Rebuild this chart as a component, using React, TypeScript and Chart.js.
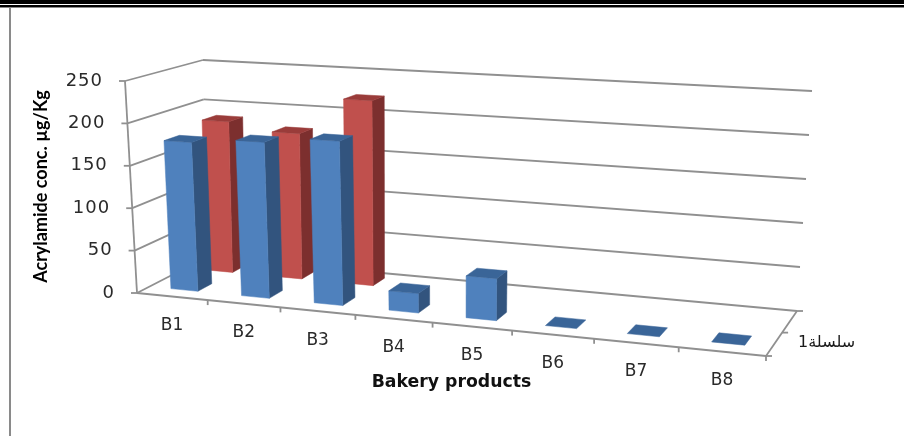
import React, { useEffect, useRef } from "react";
import { Chart, registerables } from "chart.js";

Chart.register(...registerables);

const categories = ["B1", "B2", "B3", "B4", "B5", "B6", "B7", "B8"];
const seriesFront = [176, 182, 189, 22, 47, 0, 0, 0];
const seriesBack: (number | null)[] = [185, 176, 221, null, null, null, null, null];
const depthLabel = "سلسلة1";
const yTitle = "Acrylamide conc. µg/Kg";
const xTitle = "Bakery products";

type P = [number, number];

function quadMap(a: P, b: P, c: P, d: P) {
  const dx1 = b[0] - c[0], dx2 = d[0] - c[0], sx = a[0] - b[0] + c[0] - d[0];
  const dy1 = b[1] - c[1], dy2 = d[1] - c[1], sy = a[1] - b[1] + c[1] - d[1];
  const det = dx1 * dy2 - dx2 * dy1;
  const g = (sx * dy2 - dx2 * sy) / det;
  const h = (dx1 * sy - sx * dy1) / det;
  return (u: number, w: number): P => {
    const q = 1 + g * u + h * w;
    return [
      (a[0] + (b[0] - a[0] + g * b[0]) * u + (d[0] - a[0] + h * d[0]) * w) / q,
      (a[1] + (b[1] - a[1] + g * b[1]) * u + (d[1] - a[1] + h * d[1]) * w) / q,
    ];
  };
}

const floorAt = quadMap([137, 293], [766, 356], [797, 311], [207, 257]);
const roofAt = quadMap([125, 81], [781, 118], [812, 91], [203, 60]);
const project = (u: number, w: number, v: number): P => {
  const f = floorAt(u, w), r = roofAt(u, w);
  return [f[0] + (r[0] - f[0]) * v, f[1] + (r[1] - f[1]) * v];
};

const depthSpans: [number, number][] = [[0.17, 0.37], [0.68, 0.88]];
const faceColors = [
  { front: "#4F81BD", side: "#32547E", top: "#3A6598" },
  { front: "#C0504D", side: "#7C2F2E", top: "#9A3C3A" },
];
const lineColor = "#909090";
const textColor = "#2A2A2A";

function poly(ctx: CanvasRenderingContext2D, pts: P[], color: string) {
  ctx.beginPath();
  pts.forEach((p, i) => (i ? ctx.lineTo(p[0], p[1]) : ctx.moveTo(p[0], p[1])));
  ctx.closePath();
  ctx.fillStyle = color;
  ctx.fill();
  ctx.strokeStyle = color;
  ctx.lineWidth = 0.5;
  ctx.stroke();
}

function seg(ctx: CanvasRenderingContext2D, a: P, b: P) {
  ctx.beginPath();
  ctx.moveTo(a[0], a[1]);
  ctx.lineTo(b[0], b[1]);
  ctx.stroke();
}

const box3d = {
  id: "box3d",
  beforeDatasetsDraw(chart: any) {
    const { ctx } = chart;
    const ys = chart.scales.y;
    const xs = chart.scales.x;
    ctx.save();
    ctx.strokeStyle = lineColor;
    ctx.lineWidth = 1.8;
    ctx.lineCap = "butt";
    ctx.letterSpacing = "1px";
    ys.ticks.forEach((t: any) => {
      const v = (t.value - ys.min) / (ys.max - ys.min);
      seg(ctx, project(0, 0, v), project(0, 1, v));
      seg(ctx, project(0, 1, v), project(1, 1, v));
      const left = project(0, 0, v);
      seg(ctx, left, [left[0] - 6, left[1]]);
      ctx.fillStyle = textColor;
      ctx.font = "18px 'DejaVu Sans'";
      ctx.textAlign = "right";
      ctx.textBaseline = "middle";
      ctx.fillText(String(t.value), left[0] - 22, left[1]);
    });
    seg(ctx, project(0, 0, 0), project(0, 0, 1));
    seg(ctx, project(0, 0, 0), project(1, 0, 0));
    seg(ctx, project(1, 0, 0), project(1, 1, 0));
    const n = xs.ticks.length;
    ctx.letterSpacing = "0px";
    xs.ticks.forEach((t: any, i: number) => {
      const a = project((i + 1) / n, 0, 0);
      seg(ctx, a, [a[0], a[1] + 5]);
      const c = project((i + 0.5) / n, 0, 0);
      ctx.fillStyle = textColor;
      ctx.font = "17px 'DejaVu Sans'";
      ctx.textAlign = "center";
      ctx.textBaseline = "middle";
      ctx.fillText(String(categories[i]), c[0], c[1] + 29);
    });
    [0, 0.5, 1].forEach((w) => {
      const a = project(1, w, 0);
      seg(ctx, a, [a[0] + 6, a[1]]);
    });
    const mid = project(1, 0.5, 0);
    ctx.fillStyle = "#1A1A1A";
    ctx.font = "16px 'DejaVu Sans'";
    ctx.direction = "rtl";
    ctx.textAlign = "left";
    ctx.textBaseline = "middle";
    ctx.fillText(depthLabel, mid[0] + 16, mid[1] + 10);
    ctx.restore();
  },
  beforeDatasetDraw(chart: any, args: any) {
    const { ctx } = chart;
    const xs = chart.scales.x;
    const ys = chart.scales.y;
    const i = args.index;
    const [w0, w1] = depthSpans[i];
    const col = faceColors[i];
    const values = chart.data.datasets[i].data;
    ctx.save();
    args.meta.data.forEach((el: any, k: number) => {
      if (values[k] == null) return;
      const u0 = (el.x - el.width / 2 - xs.left) / xs.width;
      const u1 = (el.x + el.width / 2 - xs.left) / xs.width;
      const v = (ys.bottom - el.y) / ys.height;
      if (v > 0) {
        poly(ctx, [project(u1, w0, 0), project(u1, w1, 0), project(u1, w1, v), project(u1, w0, v)], col.side);
        poly(ctx, [project(u0, w0, 0), project(u1, w0, 0), project(u1, w0, v), project(u0, w0, v)], col.front);
      }
      poly(ctx, [project(u0, w0, v), project(u1, w0, v), project(u1, w1, v), project(u0, w1, v)], col.top);
    });
    ctx.restore();
    return false;
  },
};

export default function App() {
  const ref = useRef<HTMLCanvasElement>(null);
  useEffect(() => {
    if (!ref.current) return;
    const chart = new Chart(ref.current, {
      type: "bar",
      data: {
        labels: categories,
        datasets: [
          { label: "front", data: seriesFront, backgroundColor: faceColors[0].front },
          { label: "back", data: seriesBack, backgroundColor: faceColors[1].front },
        ],
      },
      options: {
        responsive: false,
        animation: false,
        devicePixelRatio: 1,
        layout: { padding: { left: 0, right: 138, top: 81, bottom: 0 } },
        plugins: { legend: { display: false }, tooltip: { enabled: false } },
        datasets: { bar: { grouped: false, barPercentage: 0.385, categoryPercentage: 1 } },
        scales: {
          x: {
            grid: { display: false },
            border: { display: false },
            ticks: { display: false },
            afterFit: (s: any) => { s.height = 436 - 292; },
            title: {
              display: true,
              text: xTitle,
              color: "#111",
              font: { family: "'DejaVu Sans'", weight: "bold", size: 17.3 },
              padding: { top: 0, bottom: 43 },
            },
          },
          y: {
            min: 0,
            max: 250,
            grid: { display: false },
            border: { display: false },
            ticks: { display: false, stepSize: 50 },
            afterFit: (s: any) => { s.width = 137; },
            title: {
              display: true,
              text: yTitle,
              color: "#000",
              font: { family: "Lato", weight: "bold", size: 18 },
              padding: { top: 30, bottom: 0 },
            },
          },
        },
      },
      plugins: [box3d],
    } as any);
    return () => chart.destroy();
  }, []);
  return (
    <div style={{ position: "fixed", left: 0, top: 0, width: 904, height: 436, background: "#fff", overflow: "hidden" }}>
      <canvas ref={ref} width={904} height={436} style={{ display: "block", position: "absolute", left: 0, top: 0 }} />
      <div style={{ position: "absolute", left: 0, top: 0, width: 904, height: 4, background: "#000" }} />
      <div style={{ position: "absolute", left: 0, top: 5, width: 904, height: 2, background: "#000" }} />
      <div style={{ position: "absolute", left: 0, top: 7, width: 904, height: 1, background: "#888" }} />
      <div style={{ position: "absolute", left: 9, top: 8, width: 2, height: 428, background: "#8A8A8A" }} />
    </div>
  );
}
